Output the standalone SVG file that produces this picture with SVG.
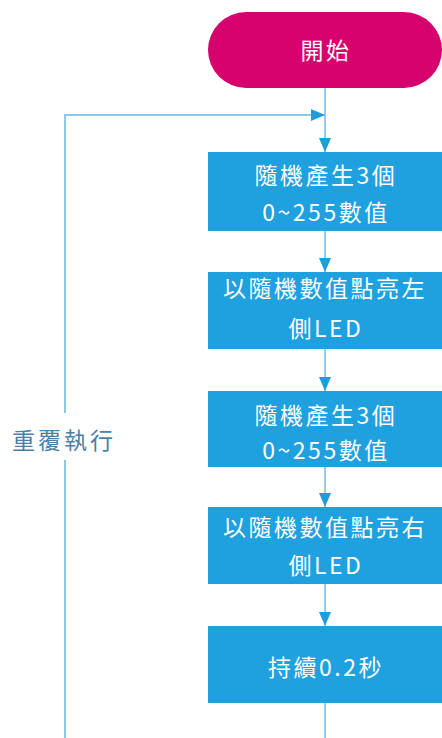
<svg xmlns="http://www.w3.org/2000/svg" width="442" height="738" viewBox="0 0 442 738">
<defs>
<style>
.box{fill:#1FA0DF;}
.t{fill:#fff;font-family:"Noto Sans CJK TC","Noto Sans",sans-serif;font-size:23px;letter-spacing:2.5px;text-anchor:middle;}
.lbl{fill:#4A7FA6;font-family:"Noto Sans CJK TC","Noto Sans",sans-serif;font-size:23px;letter-spacing:3px;}
.c{fill:none;stroke:#7DC0E6;stroke-width:1.6;}
.loop{fill:none;stroke:#8CC8EA;stroke-width:2;}
</style>
<marker id="ah" viewBox="0 0 14 12" refX="14" refY="6" markerWidth="14" markerHeight="12" markerUnits="userSpaceOnUse" orient="auto">
<path d="M0,0 L14,6 L0,12 Z" fill="#1E9CDD"/>
</marker>
</defs>
<rect width="442" height="738" fill="#fff"/>
<g id="connectors">
<path class="loop" d="M65,738 V115 H325" marker-end="url(#ah)"/>
<path class="c" d="M325,88 V152" marker-end="url(#ah)"/>
<path class="c" d="M325,231 V272" marker-end="url(#ah)"/>
<path class="c" d="M325,349 V391" marker-end="url(#ah)"/>
<path class="c" d="M325,467 V507" marker-end="url(#ah)"/>
<path class="c" d="M325,584 V626" marker-end="url(#ah)"/>
<path class="c" d="M325,703 V738"/>
</g>
<g id="loop-label">
<rect x="8" y="413" width="116" height="47" fill="#fff"/>
<text class="lbl" x="12" y="449">重覆執行</text>
</g>
<g id="start">
<rect x="208" y="12" width="234" height="76" rx="38" fill="#D6036F"/>
<text class="t" x="326" y="59">開始</text>
</g>
<g id="n1">
<rect class="box" x="208" y="152" width="234" height="79"/>
<text class="t" x="326" y="184">隨機產生3個</text>
<text class="t" x="326" y="221">0~255數值</text>
</g>
<g id="n2">
<rect class="box" x="208" y="272" width="234" height="77"/>
<text class="t" x="325" y="297">以隨機數值點亮左</text>
<text class="t" x="326" y="337">側LED</text>
</g>
<g id="n3">
<rect class="box" x="208" y="391" width="234" height="76"/>
<text class="t" x="326" y="424">隨機產生3個</text>
<text class="t" x="326" y="459">0~255數值</text>
</g>
<g id="n4">
<rect class="box" x="208" y="507" width="234" height="77"/>
<text class="t" x="325" y="536">以隨機數值點亮右</text>
<text class="t" x="326" y="574">側LED</text>
</g>
<g id="n5">
<rect class="box" x="208" y="626" width="234" height="77"/>
<text class="t" x="326" y="676">持續0.2秒</text>
</g>
</svg>
